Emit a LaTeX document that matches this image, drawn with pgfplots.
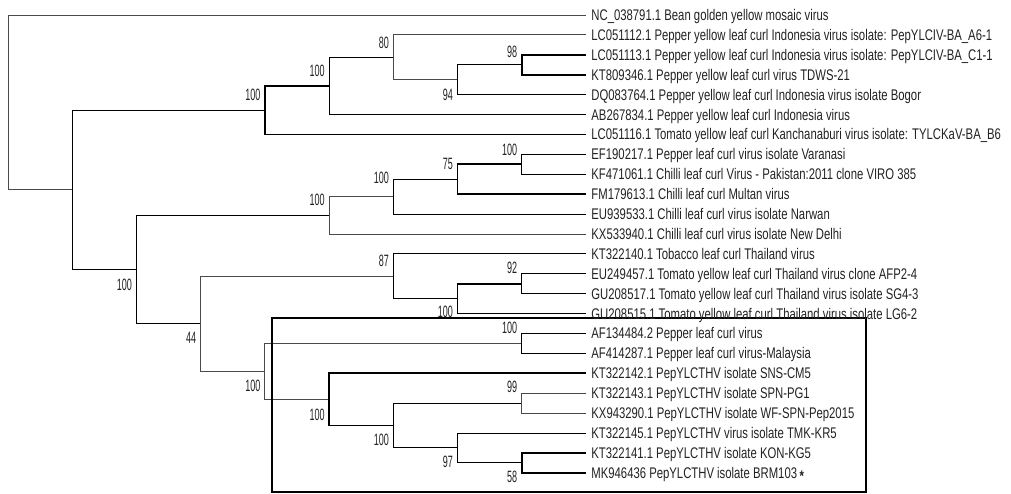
\documentclass[border=0pt]{standalone}
\usepackage{pgfplots}
\pgfplotsset{compat=1.18}
\usepackage{fontspec}
\setmainfont{Liberation Sans}[FakeStretch=0.735]
\newfontfamily\bsfont{Liberation Sans}[FakeStretch=0.55]
\definecolor{treeline}{HTML}{4A4A4A}
\definecolor{txt}{HTML}{222222}
\tikzset{
  leaf/.style={anchor=base west, inner sep=0pt, xshift=2.6pt, yshift=-2.75pt, font=\fontsize{7.7}{9}\selectfont, text=txt},
  bs/.style={anchor=base east, inner sep=0pt, xshift=-2pt, yshift=-3pt, font=\bsfont\fontsize{8.2}{9}\selectfont, text=txt}
}
\begin{document}
\begin{tikzpicture}
\begin{axis}[name=ax, hide axis, scale only axis, width=505.5pt, height=246.5pt,
  xmin=-0.1246, xmax=15.623, ymin=-0.7538, ymax=24.02, y dir=reverse, clip=false,
  cycle list={{treeline, solid, line width=0.9pt, mark=none}}]
% root
\addplot coordinates {(9,0) (0,0) (0,8.78515625) (1,8.78515625)};
% A
\addplot coordinates {(4,4.78125) (1,4.78125) (1,12.7890625) (2,12.7890625)};
% B
\addplot coordinates {(5,3.5625) (4,3.5625) (4,6) (9,6)};
% C
\addplot coordinates {(6,2.125) (5,2.125) (5,5) (9,5)};
% D
\addplot coordinates {(9,1) (6,1) (6,3.25) (7,3.25)};
% E
\addplot coordinates {(8,2.5) (7,2.5) (7,4) (9,4)};
% F
\addplot coordinates {(9,2) (8,2) (8,3) (9,3)};
% G
\addplot coordinates {(5,10.0625) (2,10.0625) (2,15.515625) (3,15.515625)};
% H
\addplot coordinates {(6,9.125) (5,9.125) (5,11) (9,11)};
% J
\addplot coordinates {(7,8.25) (6,8.25) (6,10) (9,10)};
% K
\addplot coordinates {(8,7.5) (7,7.5) (7,9) (9,9)};
% L
\addplot coordinates {(9,7) (8,7) (8,8) (9,8)};
% I
\addplot coordinates {(6,13.125) (3,13.125) (3,17.90625) (4,17.90625)};
% M
\addplot coordinates {(9,12) (6,12) (6,14.25) (7,14.25)};
% O
\addplot coordinates {(8,13.5) (7,13.5) (7,15) (9,15)};
% P
\addplot coordinates {(9,13) (8,13) (8,14) (9,14)};
% N
\addplot coordinates {(8,16.5) (4,16.5) (4,19.3125) (5,19.3125)};
% Q
\addplot coordinates {(9,16) (8,16) (8,17) (9,17)};
% R
\addplot coordinates {(9,18) (5,18) (5,20.625) (6,20.625)};
% S
\addplot coordinates {(8,19.5) (6,19.5) (6,21.75) (7,21.75)};
% T
\addplot coordinates {(9,19) (8,19) (8,20) (9,20)};
% U
\addplot coordinates {(9,21) (7,21) (7,22.5) (8,22.5)};
% W
\addplot coordinates {(9,22) (8,22) (8,23) (9,23)};

% box
\draw[black, line width=1.1pt] (axis cs:4.11,15.23) rectangle (axis cs:13.36,23.97);

% leaf labels
\node[leaf] at (axis cs:9,0) {NC\_038791.1 Bean golden yellow mosaic virus};
\node[leaf] at (axis cs:9,1) {LC051112.1 Pepper yellow leaf curl Indonesia virus isolate: PepYLCIV-BA\_A6-1};
\node[leaf] at (axis cs:9,2) {LC051113.1 Pepper yellow leaf curl Indonesia virus isolate: PepYLCIV-BA\_C1-1};
\node[leaf] at (axis cs:9,3) {KT809346.1 Pepper yellow leaf curl virus TDWS-21};
\node[leaf] at (axis cs:9,4) {DQ083764.1 Pepper yellow leaf curl Indonesia virus isolate Bogor};
\node[leaf] at (axis cs:9,5) {AB267834.1 Pepper yellow leaf curl Indonesia virus};
\node[leaf] at (axis cs:9,6) {LC051116.1 Tomato yellow leaf curl Kanchanaburi virus isolate: TYLCKaV-BA\_B6};
\node[leaf] at (axis cs:9,7) {EF190217.1 Pepper leaf curl virus isolate Varanasi};
\node[leaf] at (axis cs:9,8) {KF471061.1 Chilli leaf curl Virus - Pakistan:2011 clone VIRO 385};
\node[leaf] at (axis cs:9,9) {FM179613.1 Chilli leaf curl Multan virus};
\node[leaf] at (axis cs:9,10) {EU939533.1 Chilli leaf curl virus isolate Narwan};
\node[leaf] at (axis cs:9,11) {KX533940.1 Chilli leaf curl virus isolate New Delhi};
\node[leaf] at (axis cs:9,12) {KT322140.1 Tobacco leaf curl Thailand virus};
\node[leaf] at (axis cs:9,13) {EU249457.1 Tomato yellow leaf curl Thailand virus clone AFP2-4};
\node[leaf] at (axis cs:9,14) {GU208517.1 Tomato yellow leaf curl Thailand virus isolate SG4-3};
\node[leaf] at (axis cs:9,15) {GU208515.1 Tomato yellow leaf curl Thailand virus isolate LG6-2};
\node[leaf] at (axis cs:9,16) {AF134484.2 Pepper leaf curl virus};
\node[leaf] at (axis cs:9,17) {AF414287.1 Pepper leaf curl virus-Malaysia};
\node[leaf] at (axis cs:9,18) {KT322142.1 PepYLCTHV isolate SNS-CM5};
\node[leaf] at (axis cs:9,19) {KT322143.1 PepYLCTHV isolate SPN-PG1};
\node[leaf] at (axis cs:9,20) {KX943290.1 PepYLCTHV isolate WF-SPN-Pep2015};
\node[leaf] at (axis cs:9,21) {KT322145.1 PepYLCTHV virus isolate TMK-KR5};
\node[leaf] at (axis cs:9,22) {KT322141.1 PepYLCTHV isolate KON-KG5};
\node[leaf] at (axis cs:9,23) {MK946436 PepYLCTHV isolate BRM103\,\raisebox{-0.45ex}{\bfseries *}};

% bootstrap values
\node[bs] at (axis cs:6,1.36) {80};
\node[bs] at (axis cs:8,1.81) {98};
\node[bs] at (axis cs:5,2.81) {100};
\node[bs] at (axis cs:7,4.02) {94};
\node[bs] at (axis cs:4,4.02) {100};
\node[bs] at (axis cs:8,6.78) {100};
\node[bs] at (axis cs:7,7.44) {75};
\node[bs] at (axis cs:6,8.19) {100};
\node[bs] at (axis cs:5,9.25) {100};
\node[bs] at (axis cs:2,13.52) {100};
\node[bs] at (axis cs:6,12.36) {87};
\node[bs] at (axis cs:8,12.71) {92};
\node[bs] at (axis cs:7,14.92) {100};
\node[bs] at (axis cs:8,15.68) {100};
\node[bs] at (axis cs:3,16.23) {44};
\node[bs] at (axis cs:4,18.64) {100};
\node[bs] at (axis cs:8,18.69) {99};
\node[bs] at (axis cs:5,20.05) {100};
\node[bs] at (axis cs:6,21.31) {100};
\node[bs] at (axis cs:7,22.46) {97};
\node[bs] at (axis cs:8,23.17) {58};
\end{axis}
\pgfresetboundingbox
\path[use as bounding box] (ax.south west) rectangle (ax.north east);
\end{tikzpicture}
\end{document}
